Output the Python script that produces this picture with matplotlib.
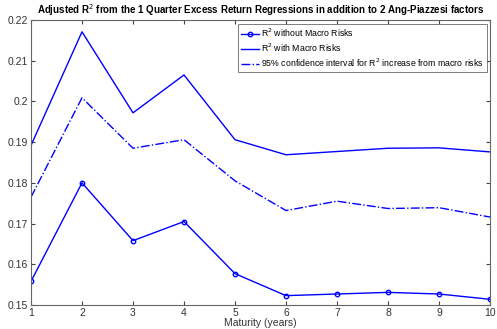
import numpy as np
import matplotlib.pyplot as plt

maturity = [1, 2, 3, 4, 5, 6, 7, 8, 9, 10]
r2_without = [0.1558, 0.1800, 0.1658, 0.1705, 0.1577, 0.1523, 0.1527, 0.1531, 0.1527, 0.1514]
r2_with = [0.1892, 0.2171, 0.1972, 0.2065, 0.1906, 0.1869, 0.1877, 0.1885, 0.1886, 0.1876]
ci_upper = [0.1765, 0.2009, 0.1885, 0.1906, 0.1805, 0.1732, 0.1755, 0.1737, 0.1739, 0.1716]

plt.rcParams['font.family'] = 'Liberation Sans'
plt.rcParams['font.size'] = 7

fig = plt.figure(figsize=(4.97, 3.29), dpi=100)
ax = fig.add_axes([31/497, 1-305/329, (490-31)/497, (305-20)/329])

ax.plot(maturity, r2_without, color='#0000ff', lw=1, marker='o', ms=3.2,
        mfc='none', mew=1, label='R$^2$ without Macro Risks')
ax.plot(maturity, r2_with, color='#0000ff', lw=1, label='R$^2$ with Macro Risks')
ax.plot(maturity, ci_upper, color='#0000ff', lw=1, ls='-.',
        label='95% confidence interval for R$^2$ increase from macro risks')

ax.set_xlim(1, 10)
ax.set_ylim(0.15, 0.22)
ax.set_xticks(maturity)
ax.set_yticks(np.arange(0.15, 0.2201, 0.01))
ax.set_yticklabels(['0.15', '0.16', '0.17', '0.18', '0.19', '0.2', '0.21', '0.22'])
ax.tick_params(direction='in', top=True, right=True, length=3, colors='#444444',
               labelcolor='#333333', labelsize=7.5, pad=2)
for s in ax.spines.values():
    s.set_color('#666666')
    s.set_linewidth(0.8)

ax.set_xlabel('Maturity (years)', fontsize=7.5, color='#333333', labelpad=0)
ax.set_title('Adjusted R$^2$ from the 1 Quarter Excess Return Regressions in addition to 2 Ang-Piazzesi factors',
             fontsize=7, fontweight='bold', pad=4)

leg = ax.legend(loc='upper right', fontsize=6.3, frameon=True, fancybox=False,
                handlelength=2.0, handletextpad=0.2, borderpad=0.35, labelspacing=0.3,
                borderaxespad=0.4)
leg.get_frame().set_edgecolor('#444444')
leg.get_frame().set_linewidth(0.6)

fig.savefig('out.png', dpi=100)
